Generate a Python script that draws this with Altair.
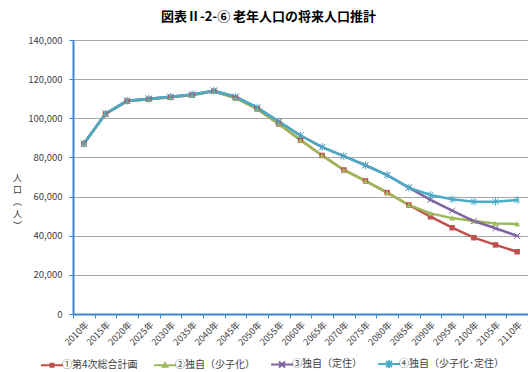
import altair as alt
import pandas as pd

# Projected elderly population (persons), 2010-2110, four scenarios
years = [f"{y}年" for y in range(2010, 2115, 5)]
series_names = ["①第4次総合計画", "②独自（少子化）", "③独自（定住）", "④独自（少子化･定住）"]

plan4 = [87000, 102200, 108800, 109700, 110700, 111900, 113800, 110400, 104800, 97100,
         88900, 81000, 73600, 68000, 62000, 55700, 49700, 44100, 39000, 35300, 31800]
low_birth = [87000, 102200, 108800, 109700, 110700, 111900, 113800, 110400, 104800, 97100,
             88900, 81000, 73600, 68000, 62000, 55700, 51400, 49000, 47500, 46300, 46000]
settle = [87000, 102400, 109000, 110000, 111000, 112200, 114100, 111000, 105500, 98300,
          91200, 85300, 80700, 76000, 71000, 64600, 58300, 52800, 47500, 43800, 39900]
low_birth_settle = [87000, 102400, 109000, 110000, 111000, 112200, 114100, 111000, 105500, 98300,
                    91200, 85300, 80700, 76000, 71000, 64600, 60800, 58600, 57400, 57400, 58300]

y_ticks = list(range(0, 140001, 20000))

colors = ["#C0504D", "#9BBB59", "#8064A2", "#4BACC6"]
point_shapes = ["square", "triangle-up",
                "M-1,-1L1,1M-1,1L1,-1",
                "M-1,-1L1,1M-1,1L1,-1M0,-1.3V1.3"]
point_filled = [True, True, False, False]
# legend glyphs: a short line segment with the series marker in the middle
legend_shapes = ["M-4,0H4M-0.55,-0.55H0.55V0.55H-0.55Z",
                 "M-4,0H4M0,-0.7L0.8,0.6H-0.8Z",
                 "M-4,0H4M-1.1,-1.1L1.1,1.1M-1.1,1.1L1.1,-1.1",
                 "M-4,0H4M-1.1,-1.1L1.1,1.1M-1.1,1.1L1.1,-1.1M0,-1.4V1.4"]

rows = []
for i, (name, vals) in enumerate(zip(series_names, [plan4, low_birth, settle, low_birth_settle])):
    for yr, v in zip(years, vals):
        rows.append({"year": yr, "value": v, "series": name, "idx": i})
df = pd.DataFrame(rows)

FONT = "Noto Sans CJK JP"
TEXT = "#404040"
AXIS_BLUE = "#3A86D0"

x_enc = alt.X("year:O", sort=years,
              scale=alt.Scale(type="band", paddingInner=0, paddingOuter=0),
              axis=alt.Axis(title=None, labelAngle=-45, tickBand="extent",
                            labelFontSize=9, labelColor=TEXT, labelFont=FONT,
                            labelPadding=2, tickSize=4, tickColor=AXIS_BLUE,
                            domainColor=AXIS_BLUE, domainWidth=2, grid=False,
                            labelOverlap=False))
y_enc = alt.Y("value:Q",
              scale=alt.Scale(domain=[0, 140000], nice=False),
              axis=alt.Axis(values=y_ticks, format=",d", title=["人", "口", "︵", "人", "︶"],
                            titleAngle=0, titleAlign="center", titleBaseline="middle",
                            titleX=-56, titleY=137, titleLineHeight=12,
                            titleFontSize=9, titleFontWeight="normal", titleColor=TEXT,
                            titleFont=FONT, labelFontSize=9.5, labelColor=TEXT,
                            labelFont=FONT, labelPadding=7, tickSize=4,
                            tickColor=AXIS_BLUE, domainColor=AXIS_BLUE, domainWidth=2,
                            gridColor="#A6A6A6", gridWidth=1))

color_scale = alt.Scale(domain=series_names, range=colors)

lines = alt.Chart(df).mark_line(strokeWidth=2.5).encode(
    x=x_enc, y=y_enc,
    color=alt.Color("series:N", scale=color_scale, legend=None),
    order=alt.Order("idx:Q"),
    detail="series:N",
)

point_layers = []
for name, col, shp, filled in zip(series_names, colors, point_shapes, point_filled):
    mk = alt.Chart(df).transform_filter(alt.datum.series == name).mark_point(
        shape=shp, size=30 if filled else 36, filled=filled, color=col,
        strokeWidth=1, opacity=1)
    point_layers.append(mk.encode(x=x_enc, y=y_enc))

legend_props = dict(title=None, orient="none", direction="horizontal",
                    legendX=-26, legendY=319, columnPadding=12,
                    symbolSize=30, symbolStrokeWidth=2, symbolOpacity=1,
                    labelOffset=5, labelFontSize=10, labelColor=TEXT, labelFont=FONT)

# layer that only carries the legend; its points sit under the visible markers
legend_layer = alt.Chart(df).mark_point(filled=False, size=1).encode(
    x=x_enc, y=y_enc,
    stroke=alt.Stroke("series:N", scale=alt.Scale(domain=series_names, range=colors),
                      legend=alt.Legend(**legend_props)),
    shape=alt.Shape("series:N", scale=alt.Scale(domain=series_names, range=legend_shapes),
                    legend=alt.Legend(**legend_props)),
)

chart = alt.layer(legend_layer, lines, *point_layers).properties(
    width=455, height=274,
    autosize=alt.AutoSizeParams(type="none"),
    padding={"left": 73, "top": 40, "right": 0, "bottom": 58},
    title=alt.TitleParams("図表Ⅱ-2-⑥ 老年人口の将来人口推計", font=FONT, fontSize=13,
                          fontWeight="bold", color="#000000", anchor="middle",
                          dx=-32, offset=11),
).configure_view(stroke=None).configure(background="white")

chart.save("out.html", embed_options={"renderer": "svg", "actions": False})
